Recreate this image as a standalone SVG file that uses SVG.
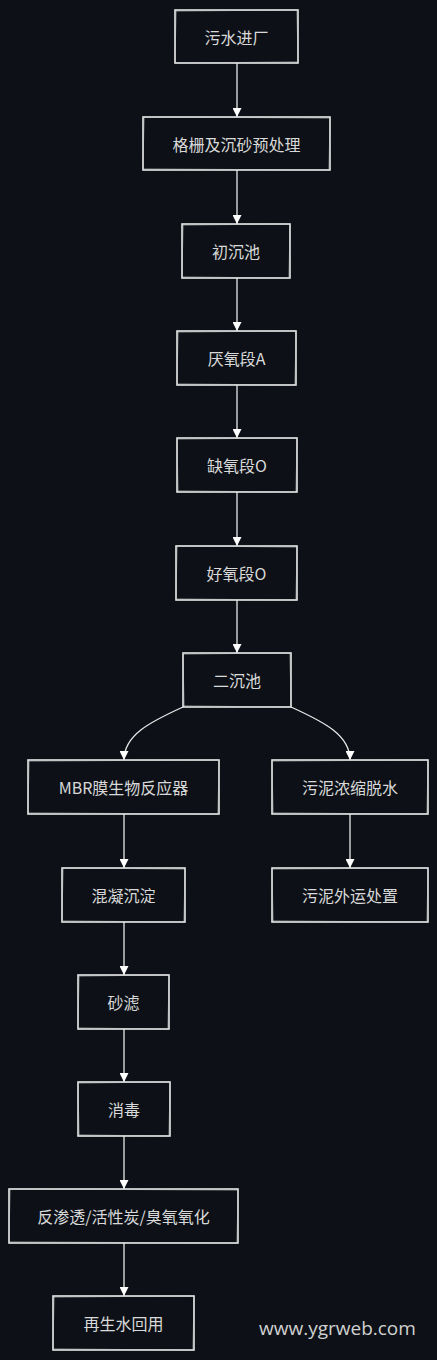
<svg xmlns="http://www.w3.org/2000/svg" width="437" height="1360" viewBox="0 0 437 1360">
<defs>
<style>
.bg{fill:#0d1117}
.box rect{fill:#0d1117;stroke:#e8e8e8;stroke-width:1.6}
.box path{fill:none;stroke:#cfcfcf;stroke-width:0.8;opacity:0.8}
.box text{font-family:"Noto Sans CJK SC","Noto Sans",sans-serif;font-size:16px;fill:#d9d9d9;text-anchor:middle;dominant-baseline:central}
.edge{fill:none;stroke:#e8e8e8;stroke-width:1.3;marker-end:url(#arr)}
.wm{font-family:"Open Sans","Noto Sans",sans-serif;font-size:19px;fill:#d0d0d0}
</style>
<marker id="arr" viewBox="0 0 10 10" refX="10" refY="5" markerWidth="9" markerHeight="9" markerUnits="userSpaceOnUse" orient="auto">
<path d="M0,0 L10,5 L0,10 z" fill="#ffffff"/>
</marker>
</defs>
<rect class="bg" x="0" y="0" width="437" height="1360"/>
<g id="connectors">
<path class="edge" d="M237,63 L237,117"/>
<path class="edge" d="M237,170 L237,224"/>
<path class="edge" d="M237,278 L237,331"/>
<path class="edge" d="M237,385 L237,438"/>
<path class="edge" d="M237,492 L237,546"/>
<path class="edge" d="M237,600 L237,653"/>
<path class="edge" d="M183,707 C150,722 124,735 124,760"/>
<path class="edge" d="M291,707 C324,722 350,735 350,760"/>
<path class="edge" d="M124,814 L124,868"/>
<path class="edge" d="M350,814 L350,868"/>
<path class="edge" d="M124,922 L124,975"/>
<path class="edge" d="M124,1029 L124,1082"/>
<path class="edge" d="M124,1136 L124,1189"/>
<path class="edge" d="M124,1243 L124,1296"/>
</g>
<g id="n1" class="box"><rect x="175" y="10" width="123" height="53"/><path d="M176,11 L297,10 L298,62 L175,63 Z"/><text x="236.5" y="36.5">污水进厂</text></g>
<g id="n2" class="box"><rect x="143" y="117" width="187" height="53"/><path d="M144,117 L330,118 L329,170 L143,169 Z"/><text x="236.5" y="143.5">格栅及沉砂预处理</text></g>
<g id="n3" class="box"><rect x="182" y="224" width="108" height="54"/><path d="M183,225 L290,224 L289,278 L182,277 Z"/><text x="236" y="251">初沉池</text></g>
<g id="n4" class="box"><rect x="177" y="331" width="119" height="54"/><path d="M178,332 L296,331 L295,385 L177,384 Z"/><text x="236.5" y="358">厌氧段A</text></g>
<g id="n5" class="box"><rect x="177" y="438" width="120" height="54"/><path d="M177,439 L297,438 L296,492 L178,491 Z"/><text x="237" y="465">缺氧段O</text></g>
<g id="n6" class="box"><rect x="176" y="546" width="121" height="54"/><path d="M177,546 L297,547 L296,600 L176,599 Z"/><text x="236.5" y="573">好氧段O</text></g>
<g id="n7" class="box"><rect x="183" y="653" width="108" height="54"/><path d="M183,654 L290,653 L291,707 L184,706 Z"/><text x="237" y="680">二沉池</text></g>
<g id="n8" class="box"><rect x="28" y="760" width="191" height="54"/><path d="M29,761 L219,760 L218,814 L28,813 Z"/><text x="123.5" y="787">MBR膜生物反应器</text></g>
<g id="n9" class="box"><rect x="272" y="760" width="156" height="54"/><path d="M272,761 L428,760 L427,814 L273,813 Z"/><text x="350" y="787">污泥浓缩脱水</text></g>
<g id="n10" class="box"><rect x="62" y="868" width="123" height="54"/><path d="M63,868 L185,869 L184,922 L62,921 Z"/><text x="123.5" y="895">混凝沉淀</text></g>
<g id="n11" class="box"><rect x="272" y="868" width="156" height="54"/><path d="M272,869 L428,868 L427,922 L273,921 Z"/><text x="350" y="895">污泥外运处置</text></g>
<g id="n12" class="box"><rect x="78" y="975" width="91" height="54"/><path d="M79,976 L169,975 L168,1029 L78,1028 Z"/><text x="123.5" y="1002">砂滤</text></g>
<g id="n13" class="box"><rect x="78" y="1082" width="92" height="54"/><path d="M78,1083 L170,1082 L169,1136 L79,1135 Z"/><text x="124" y="1109">消毒</text></g>
<g id="n14" class="box"><rect x="9" y="1189" width="229" height="54"/><path d="M10,1189 L238,1190 L237,1243 L9,1242 Z"/><text x="123.5" y="1216">反渗透/活性炭/臭氧氧化</text></g>
<g id="n15" class="box"><rect x="53" y="1296" width="141" height="54"/><path d="M54,1297 L194,1296 L193,1350 L53,1349 Z"/><text x="123.5" y="1323">再生水回用</text></g>
<text class="wm" x="259" y="1335">www.ygrweb.com</text>
</svg>
